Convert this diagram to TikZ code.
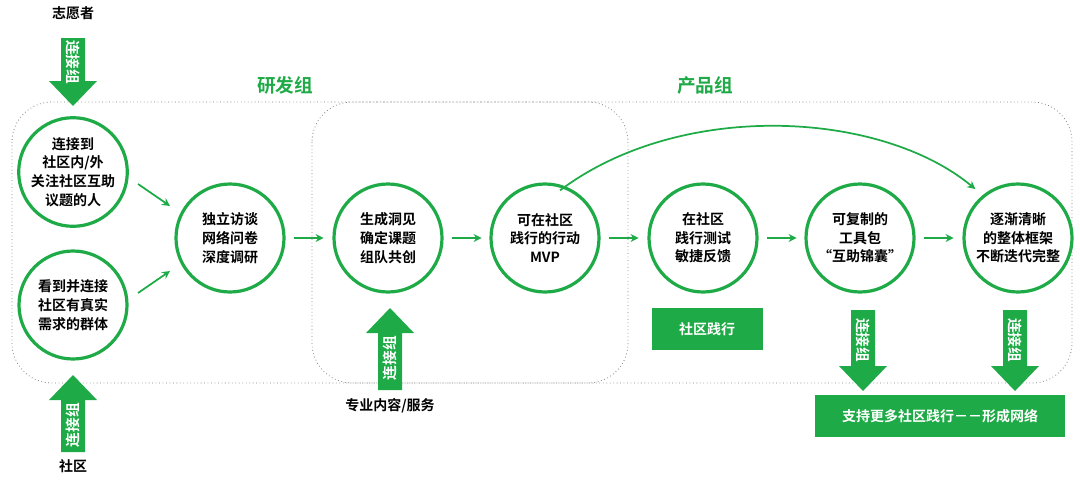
\documentclass[tikz,border=0pt]{standalone}
\usepackage{fontspec}
\setmainfont{Noto Sans CJK SC}[BoldFont={* Bold}]
\newfontfamily\cjk{Noto Sans CJK SC Bold}
\usetikzlibrary{arrows.meta}
\definecolor{g}{RGB}{30,170,70}
\tikzset{
 x=0.75pt,y=-0.75pt,
 circ/.style={circle,draw=g,line width=2.4pt,minimum size=108*0.75pt,inner sep=0pt,align=center,font=\cjk\fontsize{10.5}{14}\selectfont},
 flow/.style={draw=g,line width=1.3pt,-{Stealth[length=6pt,width=6pt]}},
 grp/.style={draw=gray,dotted,line width=0.6pt,rounded corners=30pt},
 gbox/.style={fill=g,text=white,font=\cjk\fontsize{10.5}{12}\selectfont,inner sep=0pt},
 lbl/.style={font=\cjk\fontsize{10.5}{12}\selectfont},
 tlbl/.style={text=g,font=\cjk\fontsize{14}{16}\selectfont},
 atxt/.style={text=white,font=\cjk\fontsize{11}{12}\selectfont},
}
\newcommand{\downarr}[3]{% x, ytop, ybot
 \fill[g] (#1-12,#2) -- (#1+12,#2) -- (#1+12,#3-25) -- (#1+24,#3-25) -- (#1,#3) -- (#1-24,#3-25) -- (#1-12,#3-25) -- cycle;}
\newcommand{\uparr}[3]{% x, ytop, ybot
 \fill[g] (#1-12,#3) -- (#1+12,#3) -- (#1+12,#2+25) -- (#1+24,#2+25) -- (#1,#2) -- (#1-24,#2+25) -- (#1-12,#2+25) -- cycle;}
\begin{document}
\begin{tikzpicture}
\useasboundingbox (0,0) rectangle (1080,479);
% groups
\draw[grp] (12,102) rectangle (1072,383);
\draw[grp] (312,102) rectangle (628,383);
\node[tlbl] (rd) at (285,85) {研发组};
\node[tlbl] (pd) at (705,85) {产品组};
% circles
\node[circ] (c1) at (73,172) {连接到\\社区内/外\\关注社区互助\\议题的人};
\node[circ] (c2) at (73,305) {看到并连接\\社区有真实\\需求的群体};
\node[circ] (c3) at (230,238) {独立访谈\\网络问卷\\深度调研};
\node[circ] (c4) at (388,238) {生成洞见\\确定课题\\组队共创};
\node[circ] (c5) at (545,238) {可在社区\\践行的行动\\MVP};
\node[circ] (c6) at (703,238) {在社区\\践行测试\\敏捷反馈};
\node[circ] (c7) at (860,238) {可复制的\\工具包\\“互助锦囊”};
\node[circ] (c8) at (1018,238) {逐渐清晰\\的整体框架\\不断迭代完整};
% flow arrows
\draw[flow] (c1) ++(65,12) coordinate (a1) (a1) -- ++(32,22) coordinate (a2);
\draw[flow] (c2) ++(65,-12) coordinate (b1) (b1) -- ++(32,-22) coordinate (b2);
\draw[flow] (c3.east) ++(8,0) coordinate (d1) (d1) -- ++(30,0);
\draw[flow] (c4.east) ++(8,0) coordinate (d2) (d2) -- ++(30,0);
\draw[flow] (c5.east) ++(8,0) coordinate (d3) (d3) -- ++(30,0);
\draw[flow] (c6.east) ++(8,0) coordinate (d4) (d4) -- ++(30,0);
\draw[flow] (c7.east) ++(8,0) coordinate (d5) (d5) -- ++(30,0);
\draw[flow] (c5.north) ++(15,8) coordinate (e1) (e1) .. controls (680,100) and (880,110) .. ([xshift=-32pt,yshift=-5pt]c8.north);
% boxes
\node[gbox,minimum width=111*0.75pt,minimum height=42*0.75pt] (sj) at (707,329) {社区践行};
\node[gbox,minimum width=250*0.75pt,minimum height=42*0.75pt] (net) at (940,416) {支持更多社区践行－－形成网络};
% block arrows
\downarr{73}{38}{106}
\node[atxt,rotate=-90] (k1) at (73,62) {连接组};
\uparr{73}{375}{452}
\node[atxt,rotate=90] (k2) at (73,425) {连接组};
\uparr{390}{308}{390}
\node[atxt,rotate=90] (k3) at (390,358) {连接组};
\downarr{863}{310}{391}
\node[atxt,rotate=-90] (k4) at (863,340) {连接组};
\downarr{1015}{310}{391}
\node[atxt,rotate=-90] (k5) at (1015,340) {连接组};
% labels
\node[lbl] (v) at (73,13) {志愿者};
\node[lbl] (s) at (73,466) {社区};
\node[lbl] (p) at (390,406) {专业内容/服务};
\end{tikzpicture}
\end{document}
